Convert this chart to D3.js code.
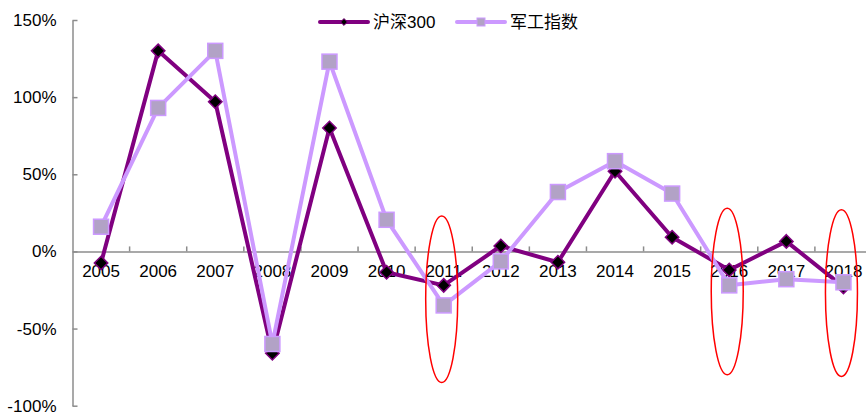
<!DOCTYPE html>
<html>
<head>
<meta charset="utf-8">
<script src="https://cdn.jsdelivr.net/npm/d3@7"></script>
<style>
  html, body { margin: 0; padding: 0; background: #fff; }
  svg { display: block; }
  text { font-family: "Liberation Sans", Arial, "Noto Sans CJK SC", sans-serif; fill: #000; }
</style>
</head>
<body>
<svg id="chart" width="866" height="414"></svg>
<script>
// Annual returns (%)
const years = ["2005","2006","2007","2008","2009","2010","2011","2012","2013","2014","2015","2016","2017","2018"];
const hs300 = [-7.5, 130, 97, -66, 80, -13.5, -22, 3.5, -7, 52, 9.2, -12, 6.5, -23];
const jungong = [16, 93, 130, -60, 123, 20.5, -35, -6.5, 38.5, 58.5, 37.5, -22, -18, -20];
const seriesNames = ["沪深300", "军工指数"];
const yTicks = [-100, -50, 0, 50, 100, 150];
// Years highlighted with red ellipses, and the vertical span of each ellipse (%)
const highlightYears = ["2011", "2016", "2018"];
const highlightTop = [23, 28, 27];
const highlightBottom = [-85, -80, -81];

const svg = d3.select("#chart");
const darkColor = "#800080";
const lightColor = "#CC99FF";

const x = d3.scaleBand().domain(years).range([72.5, 872]).padding(0);
const y = d3.scaleLinear().domain([-100, 150]).range([405.7, 20]);
const cx = d => x(d) + x.bandwidth() / 2;

// Y axis
const yAxis = svg.append("g")
  .attr("transform", `translate(${x.range()[0]},0)`)
  .call(d3.axisLeft(y).tickValues(yTicks).tickFormat(d => d + "%").tickSizeInner(-5).tickSizeOuter(0).tickPadding(16));
yAxis.select(".domain").attr("stroke", "#8c8c8c").attr("stroke-width", 1.5);
yAxis.selectAll(".tick line").attr("stroke", "#8c8c8c").attr("stroke-width", 1.5);
yAxis.selectAll(".tick text").attr("font-size", 17).attr("font-family", '"Liberation Sans", Arial, sans-serif').attr("fill", "#000");

// X axis along the zero line
const xAxis = svg.append("g")
  .attr("transform", `translate(0,${y(0)})`)
  .call(d3.axisBottom(x).tickSize(0).tickPadding(14));
xAxis.select(".domain").attr("stroke", "#8c8c8c").attr("stroke-width", 1.5);
xAxis.selectAll(".tick text").attr("font-size", 17).attr("font-family", '"Liberation Sans", Arial, sans-serif').attr("fill", "#000");
// Category boundary ticks pointing up
svg.append("g").selectAll("line")
  .data(years.slice(1))
  .join("line")
  .attr("x1", d => x(d)).attr("x2", d => x(d))
  .attr("y1", y(0) - 5).attr("y2", y(0))
  .attr("stroke", "#8c8c8c").attr("stroke-width", 1.5);

const line = d3.line().x((d, i) => cx(years[i])).y(d => y(d));

// 沪深300 line with black diamonds
svg.append("path").datum(hs300)
  .attr("d", line).attr("fill", "none")
  .attr("stroke", darkColor).attr("stroke-width", 4).attr("stroke-linejoin", "round");
const diamond = d3.symbol().type(d3.symbolDiamond2).size(115);
svg.append("g").selectAll("path")
  .data(hs300)
  .join("path")
  .attr("d", diamond)
  .attr("transform", (d, i) => `translate(${cx(years[i])},${y(d)})`)
  .attr("fill", "#000").attr("stroke", darkColor).attr("stroke-width", 1.5);

// 军工指数 line with square markers
svg.append("path").datum(jungong)
  .attr("d", line).attr("fill", "none")
  .attr("stroke", lightColor).attr("stroke-width", 4).attr("stroke-linejoin", "round");
const sq = 15;
svg.append("g").selectAll("rect")
  .data(jungong)
  .join("rect")
  .attr("x", (d, i) => cx(years[i]) - sq / 2)
  .attr("y", d => y(d) - sq / 2)
  .attr("width", sq).attr("height", sq)
  .attr("fill", "#B2A2C6").attr("stroke", lightColor).attr("stroke-width", 1.5);

// Highlight ellipses
svg.append("g").selectAll("ellipse")
  .data(highlightYears)
  .join("ellipse")
  .attr("cx", d => cx(d) - 2)
  .attr("cy", (d, i) => (y(highlightTop[i]) + y(highlightBottom[i])) / 2)
  .attr("rx", 16)
  .attr("ry", (d, i) => (y(highlightBottom[i]) - y(highlightTop[i])) / 2)
  .attr("fill", "none").attr("stroke", "#FF0000").attr("stroke-width", 1.5);

// Legend
const legend = svg.append("g");
const legendX = [320, 457];
const legendY = 22;
seriesNames.forEach((name, i) => {
  const g = legend.append("g").attr("transform", `translate(${legendX[i]},${legendY})`);
  g.append("line").attr("x1", 0).attr("x2", 48).attr("y1", 0).attr("y2", 0)
    .attr("stroke", i === 0 ? darkColor : lightColor).attr("stroke-width", 4).attr("stroke-linecap", "round");
  if (i === 0) {
    g.append("path").attr("d", d3.symbol().type(d3.symbolDiamond2).size(30)())
      .attr("transform", "translate(24,0)")
      .attr("fill", "#000").attr("stroke", darkColor).attr("stroke-width", 1);
  } else {
    g.append("rect").attr("x", 24 - 4).attr("y", -4).attr("width", 8).attr("height", 8)
      .attr("fill", "#B2A2C6").attr("stroke", lightColor).attr("stroke-width", 1);
  }
  g.append("text").attr("x", 53).attr("y", 0).attr("dy", "0.35em")
    .attr("font-size", 17)
    .attr("font-family", '"Liberation Sans", Arial, "Noto Sans CJK SC", sans-serif')
    .text(name);
});
</script>
</body>
</html>
